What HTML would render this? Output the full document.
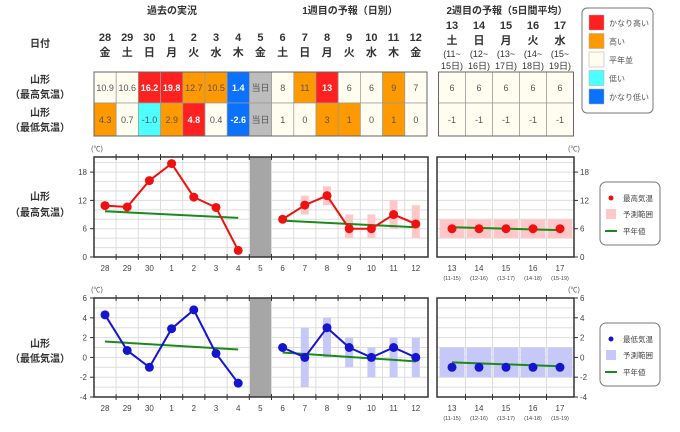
<!DOCTYPE html>
<html><head><meta charset="utf-8"><style>
body{margin:0;background:#fff;width:680px;height:427px;overflow:hidden}
svg{font-family:"Liberation Sans","Noto Sans CJK JP",sans-serif}
</style></head><body>
<svg id="s" width="680" height="427" xmlns="http://www.w3.org/2000/svg"></svg>
<script>
const s=document.getElementById('s');let h='';
const X1=i=>105+i*22.2;
const X2=i=>452+i*27;
const R='#ff2020',O='#ff9900',C='#fffdf0',Cy='#4dffff',B='#0a72ff',G='#bdbdbd';
function t(x,y,txt,o={}){h+=`<text x="${x}" y="${y}" font-size="${o.fs||10}" fill="${o.c||'#333'}" text-anchor="${o.a||'middle'}" font-weight="${o.w||'normal'}">${txt}</text>`;}
t(172,14,'過去の実況',{w:'bold'});t(350,14,'1週目の予報（日別）',{w:'bold'});t(507,14,'2週目の予報（5日間平均）',{w:'bold'});
t(40,47,'日付',{w:'bold'});
const d=['28','29','30','1','2','3','4','5','6','7','8','9','10','11','12'],wd=['金','土','日','月','火','水','木','金','土','日','月','火','水','木','金'];
d.forEach((v,i)=>{t(X1(i),41,v,{w:'bold',fs:11});t(X1(i),56,wd[i],{w:'bold',fs:11});});
const d2=['13','14','15','16','17'],w2=['土','日','月','火','水'],p1=['(11~','(12~','(13~','(14~','(15~'],p2=['15日)','16日)','17日)','18日)','19日)'];
d2.forEach((v,i)=>{t(X2(i),29,v,{w:'bold',fs:11});t(X2(i),44,w2[i],{w:'bold',fs:11});t(X2(i),57,p1[i],{fs:9});t(X2(i),69,p2[i],{fs:9});});
t(40,83,'山形',{w:'bold'});t(40,98,'（最高気温）',{w:'bold'});t(40,116,'山形',{w:'bold'});t(40,131,'（最低気温）',{w:'bold'});
const hv=['10.9','10.6','16.2','19.8','12.7','10.5','1.4','当日','8','11','13','6','6','9','7'],hc=[C,C,R,R,O,O,B,G,C,O,R,C,C,O,C];
const lv=['4.3','0.7','-1.0','2.9','4.8','0.4','-2.6','当日','1','0','3','1','0','1','0'],lc=[O,C,Cy,O,R,C,B,G,C,C,O,O,C,O,C];
function cell(x,y,w,hh,v,c){const white=(c==R||c==B);h+=`<rect x="${x}" y="${y}" width="${w}" height="${hh}" fill="${c}" stroke="#999" stroke-width="0.7"/>`;t(x+w/2,y+hh/2+3.5,v,{fs:9,c:white?'#fff':'#555',w:white?'bold':'normal'});}
for(let i=0;i<15;i++){cell(94+i*22.2,72,22.2,31,hv[i],hc[i]);cell(94+i*22.2,103,22.2,33,lv[i],lc[i]);}
for(let i=0;i<5;i++){cell(438.5+i*27,72,27,31,'6',C);cell(438.5+i*27,103,27,33,'-1',C);}
h+=`<rect x="94" y="72" width="333" height="64" fill="none" stroke="#666"/><rect x="438.5" y="72" width="135" height="64" fill="none" stroke="#666"/>`;
h+=`<rect x="582" y="8" width="71" height="105" rx="5" fill="#fff" stroke="#777"/>`;
[[R,'かなり高い'],[O,'高い'],[C,'平年並'],[Cy,'低い'],[B,'かなり低い']].forEach((a,i)=>{const y=15+i*18.5;h+=`<rect x="589" y="${y}" width="15" height="15" fill="${a[0]}" stroke="#aaa" stroke-width="0.5"/>`;t(609,y+11,a[1],{a:'start',fs:8,c:'#555'});});
function chart(top,bot,vmin,vmax,gstep,lstep,vals,rng,norm,col,rcol,nm){
 const Y=v=>bot-(v-vmin)/(vmax-vmin)*(bot-top);
 [[94,428],[437,574]].forEach(p=>{h+=`<rect x="${p[0]}" y="${top}" width="${p[1]-p[0]}" height="${bot-top}" fill="#fff"/>`;
  for(let v=vmin+gstep;v<vmax;v+=gstep)h+=`<line x1="${p[0]}" x2="${p[1]}" y1="${Y(v)}" y2="${Y(v)}" stroke="#ddd"/>`;});
 for(let i=0;i<14;i++){const x=X1(i)+11.1;h+=`<line x1="${x}" x2="${x}" y1="${top}" y2="${bot}" stroke="#ddd"/><line x1="${x}" x2="${x}" y1="${top-3}" y2="${top+3}" stroke="#333"/><line x1="${x}" x2="${x}" y1="${bot-3}" y2="${bot+3}" stroke="#333"/>`;}
 for(let i=0;i<4;i++){const x=X2(i)+13.5;h+=`<line x1="${x}" x2="${x}" y1="${top}" y2="${bot}" stroke="#ddd"/><line x1="${x}" x2="${x}" y1="${top-3}" y2="${top+3}" stroke="#333"/><line x1="${x}" x2="${x}" y1="${bot-3}" y2="${bot+3}" stroke="#333"/>`;}
 h+=`<rect x="250" y="${top}" width="21" height="${bot-top}" fill="#a6a6a6"/>`;
 rng.forEach((r,k)=>{if(!r||k==7)return;const i=k+8;h+=`<rect x="${X1(i)-4}" y="${Y(r[1])}" width="8" height="${Y(r[0])-Y(r[1])}" fill="${rcol}"/>`;});
 for(let i=0;i<5;i++)h+=`<rect x="${X2(i)-12.5}" y="${Y(rng[7][1])}" width="25" height="${Y(rng[7][0])-Y(rng[7][1])}" fill="${rcol}"/>`;
 h+=`<line x1="${X1(0)}" x2="${X1(6)}" y1="${Y(norm[0])}" y2="${Y(norm[1])}" stroke="#1a8a1a" stroke-width="2"/>`;
 h+=`<line x1="${X1(8)}" x2="${X1(14)}" y1="${Y(norm[2])}" y2="${Y(norm[3])}" stroke="#1a8a1a" stroke-width="2"/>`;
 h+=`<line x1="${X2(0)}" x2="${X2(4)}" y1="${Y(norm[4])}" y2="${Y(norm[5])}" stroke="#1a8a1a" stroke-width="2"/>`;
 const pl=(a,b)=>{let p=[];for(let i=a;i<=b;i++)p.push(X1(i)+','+Y(vals[i]));h+=`<polyline points="${p.join(' ')}" fill="none" stroke="${col}" stroke-width="2"/>`;};
 pl(0,6);pl(8,14);
 for(let i=0;i<15;i++)if(i!=7)h+=`<circle cx="${X1(i)}" cy="${Y(vals[i])}" r="4.5" fill="${col}"/>`;
 for(let i=0;i<5;i++)h+=`<circle cx="${X2(i)}" cy="${Y(vals[15])}" r="4.5" fill="${col}"/>`;
 h+=`<rect x="94" y="${top}" width="334" height="${bot-top}" fill="none" stroke="#333" stroke-width="1.5"/><rect x="437" y="${top}" width="137" height="${bot-top}" fill="none" stroke="#333" stroke-width="1.5"/>`;
 for(let v=vmin;v<=vmax;v+=lstep){const y=Y(v);t(87,y+3,v,{a:'end',fs:8,c:'#444'});t(580,y+3,v,{a:'start',fs:8,c:'#444'});
  h+=`<line x1="90" x2="94" y1="${y}" y2="${y}" stroke="#333"/><line x1="574" x2="578" y1="${y}" y2="${y}" stroke="#333"/>`;}
 t(97,top-6,'(℃)',{fs:7,c:'#555'});t(574,top-6,'(℃)',{fs:7,c:'#555'});
 d.forEach((v,i)=>t(X1(i),bot+14,v,{fs:8,c:'#444'}));
 d2.forEach((v,i)=>{t(X2(i),bot+14,v,{fs:8,c:'#444'});t(X2(i),bot+23,'('+(11+i)+'-'+(15+i)+')',{fs:5.5,c:'#444'});});
 const ly=top+25;h+=`<rect x="600" y="${ly}" width="60" height="63" rx="6" fill="#fff" stroke="#777"/>`;
 h+=`<circle cx="611" cy="${ly+16}" r="2.5" fill="${col}"/>`;t(623,ly+19,nm,{a:'start',fs:7.5,c:'#444'});
 h+=`<rect x="606" y="${ly+27}" width="10" height="10" fill="${rcol}"/>`;t(623,ly+35,'予測範囲',{a:'start',fs:7.5,c:'#444'});
 h+=`<line x1="605" x2="617" y1="${ly+49}" y2="${ly+49}" stroke="#1a8a1a" stroke-width="2"/>`;t(623,ly+52,'平年値',{a:'start',fs:7.5,c:'#444'});
}
t(40,200,'山形',{w:'bold'});t(40,216,'（最高気温）',{w:'bold'});
t(40,347,'山形',{w:'bold'});t(40,362,'（最低気温）',{w:'bold'});
chart(157,257,0,21.2,2,6,[10.9,10.6,16.2,19.8,12.7,10.5,1.4,0,8,11,13,6,6,9,7,6],
 [null,[9,13],[11,15],[4,9],[4,9],[6,12],[4,11],[4,8]],[9.7,8.3,7.7,6.3,6.3,5.7],'#f01010','#ffc8c8','最高気温');
chart(298,397,-4,6,1,2,[4.3,0.7,-1,2.9,4.8,0.4,-2.6,0,1,0,3,1,0,1,0,-1],
 [null,[-3,3],[0,4],[-1,2],[-2,1],[-2,2],[-2,2],[-2,1]],[1.6,0.8,0.5,-0.4,-0.5,-0.9],'#1515d0','#c6c8f8','最低気温');
s.innerHTML=h;
</script>
</body></html>
